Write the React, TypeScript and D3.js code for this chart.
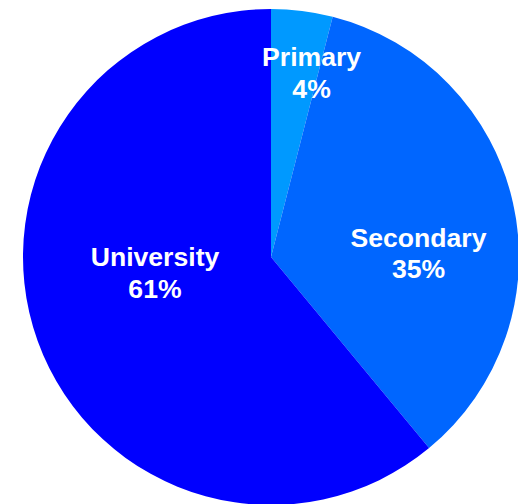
import React from "react";
import * as d3 from "d3";

const categories = ["Primary", "Secondary", "University"];
const values = [4, 35, 61];
const colors = ["#0099FF", "#0066FF", "#0000FF"];

// label placement: angle (deg, clockwise from top) and radius fraction
const labelAngles = [12.4, 88.6, 262.4];
const labelRadii = [0.762, 0.595, 0.472];

const W = 518;
const H = 504;
const cx = 271;
const cy = 257;
const R = 248;
const fontSize = 26.6;
const lineH = 31.5;

export default function App() {
  const total = d3.sum(values);
  const pie = d3
    .pie<number>()
    .sort(null)
    .value((d) => d);
  const arcs = pie(values);
  const arc = d3.arc<d3.PieArcDatum<number>>().innerRadius(0).outerRadius(R);

  return (
    <svg
      width={W}
      height={H}
      style={{ position: "absolute", left: 0, top: 0 }}
      fontFamily="'Liberation Sans', Arial, sans-serif"
    >
      <g transform={`translate(${cx},${cy})`}>
        {arcs.map((a, i) => (
          <path key={categories[i]} d={arc(a) || ""} fill={colors[i]} />
        ))}
        {arcs.map((a, i) => {
          const ang = (labelAngles[i] * Math.PI) / 180;
          const r = labelRadii[i] * R;
          const x = r * Math.sin(ang);
          const y = -r * Math.cos(ang);
          const pct = Math.round((values[i] / total) * 100) + "%";
          return (
            <text
              key={"l" + i}
              x={x}
              y={y}
              fill="#fff"
              fontWeight="bold"
              fontSize={fontSize}
              textAnchor="middle"
            >
              <tspan x={x} dy={-lineH / 2 + fontSize * 0.35}>
                {categories[i]}
              </tspan>
              <tspan x={x} dy={lineH}>
                {pct}
              </tspan>
            </text>
          );
        })}
      </g>
    </svg>
  );
}
